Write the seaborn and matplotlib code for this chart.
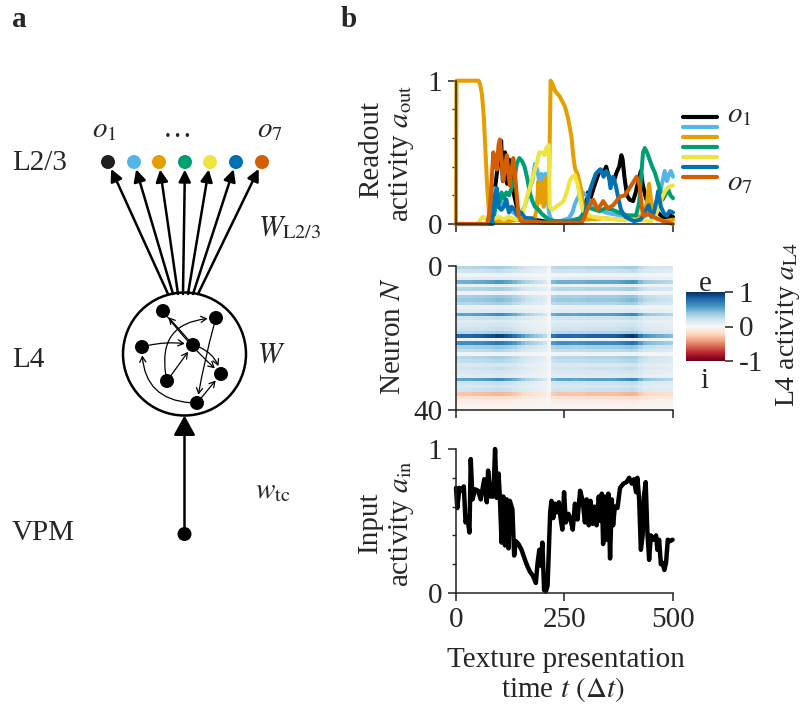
import numpy as np
import pandas as pd
import matplotlib
matplotlib.use("Agg")
import matplotlib.pyplot as plt
from matplotlib.patches import Circle, FancyArrowPatch
from matplotlib.lines import Line2D
import seaborn as sns

# ---------------- data ----------------
out_names = ["o1", "o2", "o3", "o4", "o5", "o6", "o7"]
out_colors = ["#000000", "#56b4e9", "#e69f00", "#009e73", "#f0e442", "#0072b2", "#d55e00"]

t_o1 = [0, 75, 80, 86, 92, 98, 104, 108, 113, 118, 122, 128, 134, 140, 146, 152, 160, 180, 220, 260,
        290, 298, 304, 310, 318, 326, 332, 340, 346, 352, 358, 364, 370, 376, 381, 384, 388, 394, 400,
        408, 414, 420, 426, 430, 436, 444, 452, 462, 472, 480, 486, 492, 500]
a_o1 = [0, 0.0, 0.03, 0.15, 0.3, 0.45, 0.58, 0.3, 0.5, 0.28, 0.45, 0.3, 0.2, 0.12, 0.08, 0.05, 0.04, 0.03,
        0.01, 0.02, 0.03, 0.12, 0.22, 0.18, 0.26, 0.33, 0.38, 0.36, 0.4, 0.33, 0.28, 0.3, 0.36, 0.4, 0.48,
        0.45, 0.33, 0.2, 0.17, 0.16, 0.22, 0.3, 0.37, 0.28, 0.2, 0.12, 0.1, 0.09, 0.06, 0.04, 0.03, 0.06, 0.05]

t_o2 = [0, 80, 86, 90, 95, 100, 106, 112, 118, 125, 132, 140, 150, 158, 164, 170, 176, 182, 187, 192, 197,
        202, 206, 210, 214, 220, 240, 260, 268, 274, 280, 286, 292, 300, 310, 320, 330, 345, 360, 380, 400,
        420, 440, 452, 462, 470, 476, 481, 486, 490, 495, 500]
a_o2 = [0, 0.0, 0.1, 0.25, 0.12, 0.2, 0.1, 0.18, 0.12, 0.1, 0.08, 0.06, 0.08, 0.12, 0.18, 0.25, 0.3, 0.42,
        0.38, 0.3, 0.35, 0.28, 0.35, 0.25, 0.08, 0.02, 0.02, 0.04, 0.08, 0.14, 0.18, 0.21, 0.22, 0.2, 0.15,
        0.12, 0.1, 0.08, 0.07, 0.06, 0.05, 0.04, 0.06, 0.1, 0.16, 0.22, 0.3, 0.37, 0.3, 0.34, 0.37, 0.33]

t_o3 = [0, 1, 52, 56, 60, 64, 68, 72, 76, 80, 120, 150, 180, 186, 190, 194, 198, 202, 207, 212, 215, 218,
        222, 228, 239, 251, 258, 266, 270, 274, 281, 289, 293, 300, 340, 380, 410, 430, 440, 445, 448, 452,
        460, 480, 500]
a_o3 = [0, 1.0, 1.0, 0.97, 0.9, 0.75, 0.5, 0.25, 0.08, 0.02, 0.02, 0.03, 0.03, 0.1, 0.3, 0.15, 0.28, 0.12,
        0.32, 0.15, 0.4, 1.0, 0.98, 0.93, 0.89, 0.82, 0.74, 0.61, 0.48, 0.39, 0.34, 0.23, 0.11, 0.03, 0.04,
        0.03, 0.04, 0.06, 0.15, 0.28, 0.2, 0.08, 0.04, 0.02, 0.03]

t_o4 = [0, 85, 90, 95, 100, 105, 110, 116, 122, 128, 134, 140, 146, 152, 158, 164, 170, 176, 182, 190, 198,
        206, 214, 230, 260, 285, 295, 302, 310, 320, 330, 345, 360, 375, 395, 415, 422, 427, 431, 435, 440,
        446, 452, 458, 464, 470, 476, 482, 488, 494, 500]
a_o4 = [0, 0.0, 0.1, 0.2, 0.15, 0.22, 0.18, 0.22, 0.2, 0.25, 0.3, 0.42, 0.46, 0.44, 0.4, 0.32, 0.22, 0.16,
        0.12, 0.1, 0.07, 0.05, 0.03, 0.02, 0.02, 0.04, 0.08, 0.12, 0.11, 0.1, 0.09, 0.11, 0.1, 0.08, 0.06,
        0.06, 0.15, 0.35, 0.5, 0.53, 0.5, 0.45, 0.4, 0.36, 0.3, 0.24, 0.17, 0.2, 0.25, 0.2, 0.18]

t_o5 = [0, 50, 56, 62, 70, 80, 90, 100, 110, 120, 130, 140, 150, 156, 162, 168, 174, 180, 186, 192, 198,
        204, 208, 214, 216, 222, 230, 240, 248, 255, 262, 268, 274, 280, 286, 292, 300, 315, 340, 380, 420,
        450, 460, 468, 474, 482, 490, 500]
a_o5 = [0, 0.0, 0.03, 0.05, 0.03, 0.02, 0.04, 0.05, 0.03, 0.05, 0.04, 0.03, 0.05, 0.1, 0.17, 0.23, 0.3,
        0.36, 0.42, 0.5, 0.5, 0.48, 0.53, 0.55, 0.12, 0.1, 0.12, 0.14, 0.16, 0.22, 0.3, 0.33, 0.34, 0.28,
        0.18, 0.1, 0.07, 0.05, 0.04, 0.03, 0.03, 0.02, 0.06, 0.12, 0.18, 0.23, 0.26, 0.27]

t_o6 = [0, 82, 86, 90, 94, 98, 104, 110, 116, 122, 128, 135, 142, 150, 160, 175, 185, 200, 250, 290, 298,
        304, 310, 316, 322, 328, 334, 340, 346, 352, 356, 362, 368, 374, 380, 390, 410, 425, 432, 438, 444,
        450, 456, 462, 466, 472, 480, 486, 492, 500]
a_o6 = [0, 0.0, 0.08, 0.2, 0.25, 0.12, 0.1, 0.12, 0.17, 0.08, 0.12, 0.1, 0.06, 0.08, 0.04, 0.04, 0.02,
        0.01, 0.01, 0.02, 0.08, 0.18, 0.25, 0.3, 0.35, 0.37, 0.38, 0.33, 0.37, 0.34, 0.25, 0.33, 0.27, 0.18,
        0.1, 0.05, 0.02, 0.03, 0.06, 0.1, 0.13, 0.05, 0.08, 0.16, 0.23, 0.12, 0.07, 0.06, 0.09, 0.08]

t_o7 = [0, 72, 78, 82, 86, 90, 94, 98, 101, 105, 109, 113, 117, 121, 124, 128, 132, 136, 140, 144, 150,
        200, 290, 296, 305, 316, 327, 339, 350, 362, 377, 389, 404, 416, 423, 428, 431, 443, 462, 477, 500]
a_o7 = [0, 0.0, 0.1, 0.3, 0.5, 0.42, 0.38, 0.55, 0.59, 0.45, 0.3, 0.4, 0.48, 0.35, 0.27, 0.38, 0.46, 0.35,
        0.2, 0.06, 0.02, 0.01, 0.01, 0.05, 0.12, 0.17, 0.1, 0.16, 0.11, 0.13, 0.19, 0.2, 0.27, 0.33, 0.27,
        0.12, 0.06, 0.07, 0.04, 0.02, 0.0]

t_in = [0, 3, 8, 13, 18, 22, 26, 31, 34, 38, 44, 51, 57, 61, 65, 71, 74, 80, 86, 90, 94, 98, 101, 105,
        109, 113, 117, 121, 124, 130, 134, 138, 144, 151, 159, 164, 170, 177, 184, 188, 192, 195, 199, 203,
        207, 211, 217, 220, 224, 228, 232, 237, 241, 245, 249, 253, 259, 264, 269, 274, 280, 286, 292, 297,
        301, 306, 310, 315, 319, 324, 329, 333, 336, 339, 343, 347, 351, 355, 359, 362, 366, 372, 378, 386,
        393, 399, 405, 410, 415, 418, 422, 426, 430, 433, 437, 441, 445, 449, 455, 461, 464, 468, 472, 476,
        480, 484, 488, 493, 499]
a_in = [0.73, 0.59, 0.73, 0.71, 0.74, 0.49, 0.53, 0.42, 0.93, 0.65, 0.72, 0.71, 0.65, 0.72, 0.79, 0.63,
        0.85, 0.67, 0.67, 1.0, 0.66, 0.83, 0.67, 0.35, 0.67, 0.33, 0.65, 0.31, 0.64, 0.58, 0.26, 0.36, 0.34,
        0.3, 0.23, 0.19, 0.15, 0.12, 0.07, 0.21, 0.3, 0.19, 0.35, 0.02, 0.01, 0.05, 0.56, 0.64, 0.52, 0.62,
        0.56, 0.63, 0.52, 0.44, 0.7, 0.49, 0.55, 0.51, 0.44, 0.62, 0.51, 0.71, 0.64, 0.49, 0.65, 0.47, 0.64,
        0.48, 0.6, 0.47, 0.67, 0.5, 0.69, 0.34, 0.67, 0.37, 0.69, 0.24, 0.65, 0.47, 0.6, 0.59, 0.73, 0.76,
        0.77, 0.8, 0.76, 0.79, 0.7, 0.8, 0.65, 0.3, 0.4, 0.67, 0.77, 0.42, 0.23, 0.4, 0.37, 0.4, 0.3, 0.37,
        0.2, 0.21, 0.16, 0.21, 0.37, 0.36, 0.37]

# L4 neuron response strength (rows) and its slow modulation over time (columns of 10 steps)
neuron_gain = [0.35, 0.25, 0.05, 0.15, 0.6, 0.1, 0.35, 0.05, 0.4, 0.45, 0.35, 0.08, 0.15, 0.65, 0.25,
               0.15, 0.2, 0.25, 0.35, 0.97, 0.05, 0.75, 0.4, 0.3, 0.05, 0.35, 0.3, 0.2, 0.25, 0.2, 0.15,
               0.65, 0.25, 0.2, 0.25, -0.35, -0.2, -0.08, -0.04, -0.02]
time_mod = [0.8, 0.82, 0.82, 0.82, 0.85, 0.85, 0.87, 0.9, 0.92, 0.97, 0.95, 0.9, 0.85, 0.78, 0.68, 0.58,
            0.5, 0.45, 0.4, 0.35, 0.28, 0.08, 0.75, 0.82, 0.82, 0.82, 0.82, 0.8, 0.82, 0.82, 0.85, 0.85,
            0.85, 0.85, 0.85, 0.85, 0.86, 0.88, 0.92, 0.96, 1.0, 0.95, 0.75, 0.62, 0.58, 0.55, 0.52, 0.5,
            0.48, 0.45]

# ---------------- style ----------------
sns.set_style("ticks")
plt.rcParams["font.family"] = ["Liberation Serif", "DejaVu Serif"]
plt.rcParams["mathtext.fontset"] = "stix"
FS = 21
plt.rcParams["font.size"] = FS
SPINE = "#222222"

W, H = 804, 709
fig = plt.figure(figsize=(W / 100, H / 100), dpi=100)

# full-figure canvas in pixel units for the circuit sketch and free labels
canvas = fig.add_axes([0, 0, 1, 1])
canvas.set_xlim(0, W)
canvas.set_ylim(H, 0)
canvas.axis("off")


def box(left, top, right, bottom):
    return [left / W, 1 - bottom / H, (right - left) / W, (bottom - top) / H]


ax_out = fig.add_axes(box(456, 80.7, 673, 224))
ax_hm = fig.add_axes(box(456, 265.7, 673, 410))
ax_in = fig.add_axes(box(456, 449, 673, 593))
cax = fig.add_axes(box(686, 292, 725, 361))
for a in (ax_out, ax_hm, ax_in):
    a.set_facecolor("none")

# ---------------- readout activity ----------------
series_t = [t_o1, t_o2, t_o3, t_o4, t_o5, t_o6, t_o7]
series_a = [a_o1, a_o2, a_o3, a_o4, a_o5, a_o6, a_o7]
frames = []
for name, tt, aa in zip(out_names, series_t, series_a):
    frames.append(pd.DataFrame({"t": tt, "a": aa, "out": name}))
df_out = pd.concat(frames, ignore_index=True)
sns.lineplot(data=df_out, x="t", y="a", hue="out",
             palette=dict(zip(out_names, out_colors)), estimator=None, sort=False,
             legend=False, lw=2.9, ax=ax_out)
for ln in ax_out.lines:
    ln.set_clip_on(False)
    ln.set_solid_capstyle("round")
    ln.set_solid_joinstyle("round")


def style_axis(a, ylim, yticks, minor, xlabels):
    a.set_xlim(0, 500)
    a.set_ylim(*ylim)
    a.set_xticks([0, 250, 500])
    a.set_xticklabels(["0", "250", "500"] if xlabels else [])
    a.set_yticks(yticks)
    a.set_yticklabels([str(v) for v in yticks])
    if minor:
        a.set_yticks(minor, minor=True)
    a.set_xlabel("")
    a.set_ylabel("")
    for s in ("top", "right"):
        a.spines[s].set_visible(False)
    for s in ("left", "bottom"):
        a.spines[s].set_visible(True)
        a.spines[s].set_linewidth(1.1)
        a.spines[s].set_color(SPINE)
    a.tick_params(which="major", direction="out", length=6, width=1.1, color=SPINE,
                  labelsize=FS, pad=4)
    a.tick_params(which="minor", direction="out", length=2.8, width=1.0, color=SPINE)


style_axis(ax_out, (0, 1), [0, 1], [0.2, 0.4, 0.6, 0.8], False)

# ---------------- L4 activity heatmap ----------------
hm = pd.DataFrame(np.outer(neuron_gain, time_mod))
sns.heatmap(hm, ax=ax_hm, cmap="RdBu", vmin=-1, vmax=1, cbar_ax=cax,
            xticklabels=False, yticklabels=False)
ax_hm.set_xticks([0, 25, 50])
ax_hm.set_xticklabels([])
ax_hm.set_yticks([0, 40])
ax_hm.set_yticklabels(["0", "40"])
for s in ("top", "right"):
    ax_hm.spines[s].set_visible(False)
for s in ("left", "bottom"):
    ax_hm.spines[s].set_visible(True)
    ax_hm.spines[s].set_linewidth(1.1)
    ax_hm.spines[s].set_color(SPINE)
ax_hm.tick_params(direction="out", length=6, width=1.1, color=SPINE, labelsize=FS, pad=4,
                  left=True, bottom=True)
cb = ax_hm.collections[0].colorbar
cb.set_ticks([1, 0, -1])
cb.set_ticklabels(["1", "0", "-1"])
cax.tick_params(direction="out", length=6, width=1.1, color=SPINE, labelsize=FS, pad=4)

# ---------------- input activity ----------------
sns.lineplot(x=t_in, y=a_in, color="black", lw=3.2, estimator=None, sort=False, ax=ax_in)
for ln in ax_in.lines:
    ln.set_clip_on(False)
style_axis(ax_in, (0, 1), [0, 1], [0.2, 0.4, 0.6, 0.8], True)

# ---------------- legend keys ----------------
for k, c in enumerate(out_colors):
    canvas.add_line(Line2D([683, 717], [117 + 10 * k, 117 + 10 * k], color=c, lw=3.0,
                           solid_capstyle="round"))
canvas.text(727, 122, r"$o_1$", ha="left", va="baseline", fontsize=FS)
canvas.text(727, 190, r"$o_7$", ha="left", va="baseline", fontsize=FS)


# ---------------- axis labels ----------------
def vlabel(x, y, s, fs=FS):
    canvas.text(x, y, s, rotation=90, rotation_mode="anchor", ha="center", va="baseline",
                fontsize=fs)


vlabel(378, 150, "Readout")
vlabel(408, 153, r"activity $a_{\rm out}$")
vlabel(400, 336, r"Neuron $N$")
vlabel(377, 522, "Input")
vlabel(408, 524, r"activity $a_{\rm in}$")
vlabel(794, 325, r"L4 activity $a_{\rm L4}$", fs=20)
canvas.text(705, 291, "e", ha="center", va="baseline", fontsize=FS)
canvas.text(705, 388, "i", ha="center", va="baseline", fontsize=FS)
canvas.text(566, 667, "Texture presentation", ha="center", va="baseline", fontsize=FS)
canvas.text(563, 697, r"time $t$ $(\Delta t)$", ha="center", va="baseline", fontsize=FS)

# panel letters
canvas.text(12, 27, "a", ha="left", va="baseline", fontsize=FS, fontweight="bold")
canvas.text(341, 27, "b", ha="left", va="baseline", fontsize=FS, fontweight="bold")

# ---------------- circuit sketch ----------------
node_r = 7
out_x = [108, 134, 159, 185, 210, 236, 262]
out_y = 162
fan_x = [168, 173, 178, 183, 188, 193, 198]
fan_y = 294
for x0, x1, c in zip(fan_x, out_x, out_colors):
    canvas.add_patch(FancyArrowPatch((x0, fan_y), (x1, out_y),
                                     arrowstyle="-|>,head_length=0.6,head_width=0.3",
                                     mutation_scale=12, lw=1.8, color="black",
                                     shrinkA=0, shrinkB=5.5, zorder=2))
    canvas.add_patch(Circle((x1, out_y), node_r, color=c if c != "#000000" else "#231f20",
                            lw=0, zorder=3))

canvas.text(92, 137, r"$o_1$", ha="left", va="baseline", fontsize=FS)
canvas.text(178, 137, "…", ha="center", va="baseline", fontsize=FS)
canvas.text(257, 137, r"$o_7$", ha="left", va="baseline", fontsize=FS)
canvas.text(12, 170, "L2/3", ha="left", va="baseline", fontsize=FS)
canvas.text(258, 235, r"$W_{\rm L2/3}$", ha="left", va="baseline", fontsize=FS)
canvas.text(12, 367, "L4", ha="left", va="baseline", fontsize=FS)
canvas.text(257, 362, r"$W$", ha="left", va="baseline", fontsize=FS)
canvas.text(255, 498, r"$w_{\rm tc}$", ha="left", va="baseline", fontsize=FS)
canvas.text(12, 540, "VPM", ha="left", va="baseline", fontsize=FS)

# recurrent L4 population
canvas.add_patch(Circle((184.5, 354), 61.5, fill=False, lw=1.8, color="black", zorder=2))
l4_nodes = {"A": (163, 311), "B": (216, 318), "C": (142, 347), "D": (193, 345),
            "E": (167, 381), "F": (221, 374), "G": (197, 403)}
for (x, y) in l4_nodes.values():
    canvas.add_patch(Circle((x, y), node_r, color="black", lw=0, zorder=4))
l4_edges = [("C", "D", -0.12), ("A", "F", 0.05), ("D", "A", 0.0), ("E", "B", -0.6),
            ("B", "G", 0.03), ("D", "F", -0.3), ("E", "D", 0.0), ("G", "C", -0.5),
            ("G", "F", 0.0)]
for s, e, rad in l4_edges:
    canvas.add_patch(FancyArrowPatch(l4_nodes[s], l4_nodes[e],
                                     connectionstyle=f"arc3,rad={rad}",
                                     arrowstyle="->,head_length=0.4,head_width=0.22",
                                     mutation_scale=10, lw=0.9, color="black",
                                     shrinkA=5, shrinkB=6, zorder=3))

# thalamic input
canvas.add_patch(FancyArrowPatch((184.5, 534), (184.5, 415.5),
                                 arrowstyle="-|>,head_length=0.6,head_width=0.33",
                                 mutation_scale=20, lw=1.8, color="black",
                                 shrinkA=0, shrinkB=0, zorder=2))
canvas.add_patch(Circle((184.5, 534), node_r, color="black", lw=0, zorder=3))

fig.savefig("out.png", dpi=100)
